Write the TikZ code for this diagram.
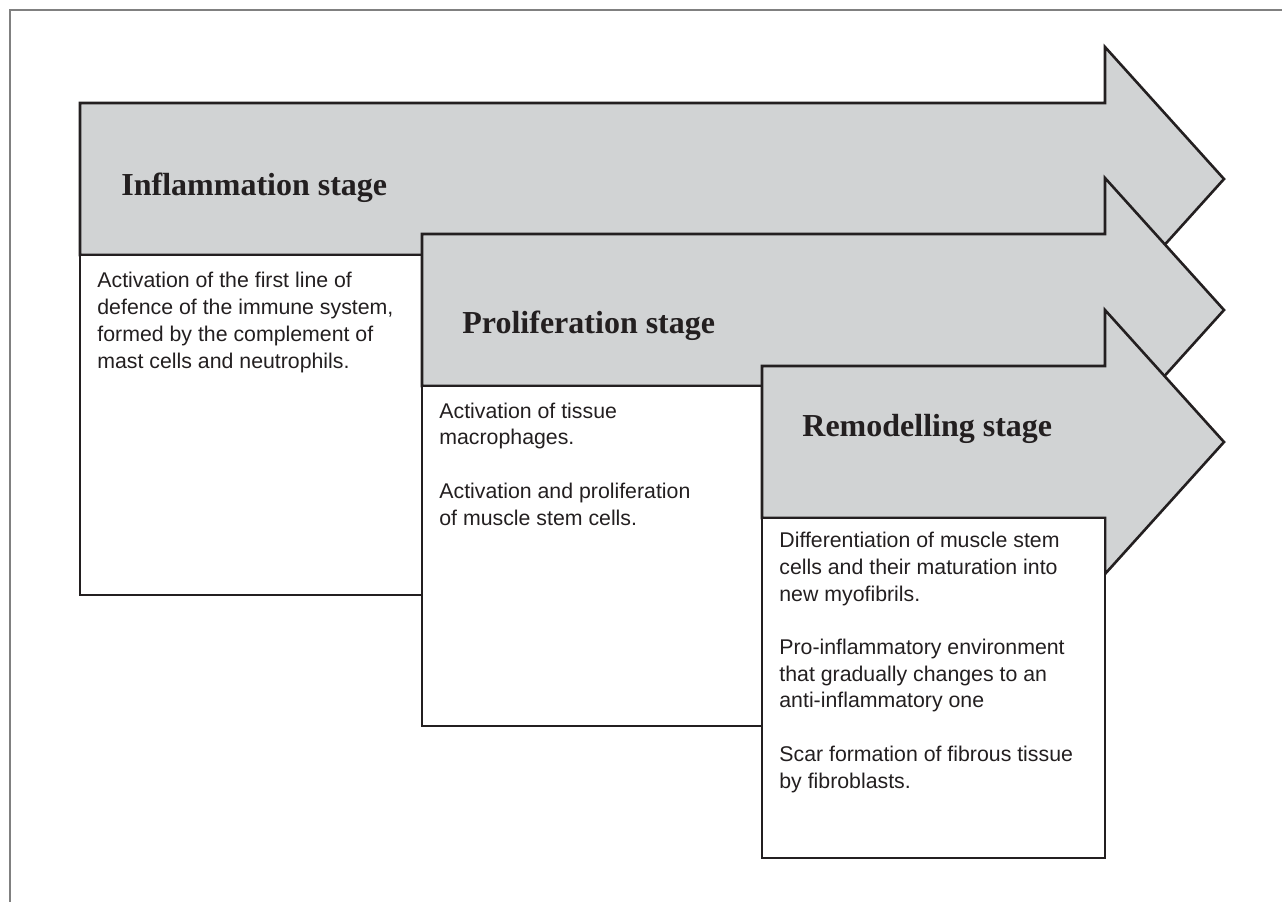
\documentclass[tikz,border=0pt]{standalone}
\usepackage{fontspec}
\setmainfont{Liberation Serif}
\setsansfont{Liberation Sans}
\definecolor{stagegray}{RGB}{209,211,212}
\definecolor{inkdark}{RGB}{35,31,32}
\definecolor{framegray}{RGB}{128,128,128}
\begin{document}
\begin{tikzpicture}[x=0.5pt,y=-0.5pt]
\tikzstyle{stagearrow}=[fill=stagegray,draw=inkdark,line width=1.3pt]
\tikzstyle{stagebox}=[fill=white,draw=inkdark,line width=1.3pt]
\tikzstyle{stagetitle}=[anchor=base west,inner sep=0pt,text=inkdark,font=\fontsize{16}{19}\selectfont\bfseries]
\tikzstyle{stagetext}=[anchor=base west,inner sep=0pt,align=left,text=inkdark,font=\sffamily\fontsize{10.65}{13.35}\selectfont]
\useasboundingbox (0,0) rectangle (1282,902);
\draw[framegray,line width=1pt] (1282,10) -- (10,10) -- (10,902);
\foreach \name/\xl/\yt/\xr in {
	infl/80/103/422,
	prol/422/234/762,
	remo/762/366/1105}
{
	\filldraw[stagearrow] (\xl,\yt) -- (1105,\yt) -- (1105,\yt-56) -- (1224,\yt+76)
		-- (1105,\yt+208) -- (1105,\yt+152) -- (\xl,\yt+152) -- cycle;
	\draw[stagebox] (\xl,\yt+152) rectangle (\xr,\yt+492);
}
\node[stagetitle] (inflTitle) at (121,195) {Inflammation stage};
\node[stagetitle] (prolTitle) at (462,333) {Proliferation stage};
\node[stagetitle] (remoTitle) at (802,436) {Remodelling stage};
\node[stagetext] (inflText) at (97,368) {Activation of the first line of\\
	defence of the immune system,\\
	formed by the complement of\\
	mast cells and neutrophils.};
\node[stagetext] (prolText) at (439,525) {Activation of tissue\\
	macrophages.\\[13.35pt]
	Activation and proliferation\\
	of muscle stem cells.};
\node[stagetext] (remoText) at (779,788) {Differentiation of muscle stem\\
	cells and their maturation into\\
	new myofibrils.\\[13.35pt]
	Pro-inflammatory environment\\
	that gradually changes to an\\
	anti-inflammatory one\\[13.35pt]
	Scar formation of fibrous tissue\\
	by fibroblasts.};
\end{tikzpicture}
\end{document}
